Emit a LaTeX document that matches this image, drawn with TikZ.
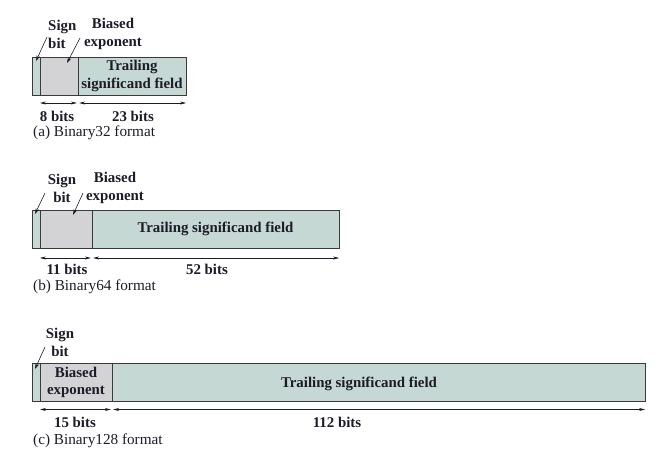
\documentclass[tikz,border=0pt]{standalone}
\usepackage{fontspec}
\setmainfont{Liberation Serif}
\usetikzlibrary{arrows.meta}

\definecolor{trailfill}{HTML}{C6D8D3}
\definecolor{expfill}{HTML}{D3D3D6}
\definecolor{edge}{HTML}{3A3A3A}
\definecolor{ink}{HTML}{1C1C28}

\tikzset{
  field/.style={draw=edge, line width=0.6pt, inner sep=0pt, outer sep=0pt,
    minimum height=1.14cm, align=center, text=ink, font=\fontsize{12.7}{15}\selectfont\bfseries},
  signfield/.style={field, fill=trailfill, minimum width=0.24cm},
  expfield/.style={field, fill=expfill},
  trailfield/.style={field, fill=trailfill},
  lbl/.style={text=ink, inner sep=0pt, align=center, font=\fontsize{12.7}{15.3}\selectfont\bfseries},
  caption/.style={text=ink, inner sep=0pt, anchor=west, font=\fontsize{13}{14}\selectfont},
  pointer/.style={-{Stealth[length=5pt,width=3pt]}, line width=0.5pt, draw=ink},
  dimline/.style={{Stealth[length=5pt,width=2.5pt]}-{Stealth[length=5pt,width=2.5pt]}, line width=0.5pt, draw=ink}
}

\begin{document}
\begin{tikzpicture}[x=0.03cm,y=-0.03cm]
\useasboundingbox (0,0) rectangle (660,456);

% (a) Binary32
\node[signfield] (sa) at (36,76) {};
\node[expfield, minimum width=1.14cm] (ea) at (59,76) {};
\node[trailfield, minimum width=3.24cm] (ta) at (132,76) {Trailing\\significand field};
\node[lbl, align=left, anchor=west] (signa) at (48,34) {Sign\\bit};
\node[lbl] (bexpa) at (113,34) {Biased\\exponent};
\draw[pointer] (47,37) -- (36,61);
\draw[pointer] (80,38) -- (67,63);
\draw[dimline] ([yshift=-0.24cm]sa.south east) -- ([yshift=-0.24cm,xshift=-1pt]ea.south east);
\draw[dimline] ([yshift=-0.24cm,xshift=1pt]ea.south east) -- ([yshift=-0.24cm]ta.south east);
\node[lbl] (bitsa1) at (57,116) {8 bits};
\node[lbl] (bitsa2) at (133,116) {23 bits};
\node[caption] (capa) at (33,133) {(a) Binary32 format};

% (b) Binary64
\node[signfield] (sb) at (36,229) {};
\node[expfield, minimum width=1.56cm] (eb) at (66,229) {};
\node[trailfield, minimum width=7.41cm] (tb) at (215.5,229) {Trailing significand field};
\node[lbl] (signb) at (62,188) {Sign\\bit};
\node[lbl] (bexpb) at (115,188) {Biased\\exponent};
\draw[pointer] (45,193) -- (35,214);
\draw[pointer] (83,193) -- (73,215);
\draw[dimline] ([yshift=-0.3cm]sb.south east) -- ([yshift=-0.3cm,xshift=-1pt]eb.south east);
\draw[dimline] ([yshift=-0.3cm,xshift=1pt]eb.south east) -- ([yshift=-0.3cm]tb.south east);
\node[lbl] (bitsb1) at (67,269) {11 bits};
\node[lbl] (bitsb2) at (207,269) {52 bits};
\node[caption] (capb) at (33,287) {(b) Binary64 format};

% (c) Binary128
\node[signfield] (sc) at (36,382.5) {};
\node[expfield, minimum width=2.16cm] (ec) at (76,382.5) {Biased\\exponent};
\node[trailfield, minimum width=15.99cm] (tc) at (378.5,382.5) {};
\node[lbl] (trailc) at (359,384) {Trailing significand field};
\node[lbl] (signc) at (60,342) {Sign\\bit};
\draw[pointer] (45,347) -- (35,369);
\draw[dimline] ([yshift=-0.24cm]sc.south east) -- ([yshift=-0.24cm,xshift=-1pt]ec.south east);
\draw[dimline] ([yshift=-0.24cm,xshift=1pt]ec.south east) -- ([yshift=-0.24cm]tc.south east);
\node[lbl] (bitsc1) at (75,422) {15 bits};
\node[lbl] (bitsc2) at (337,422) {112 bits};
\node[caption] (capc) at (33,441) {(c) Binary128 format};
\end{tikzpicture}
\end{document}
